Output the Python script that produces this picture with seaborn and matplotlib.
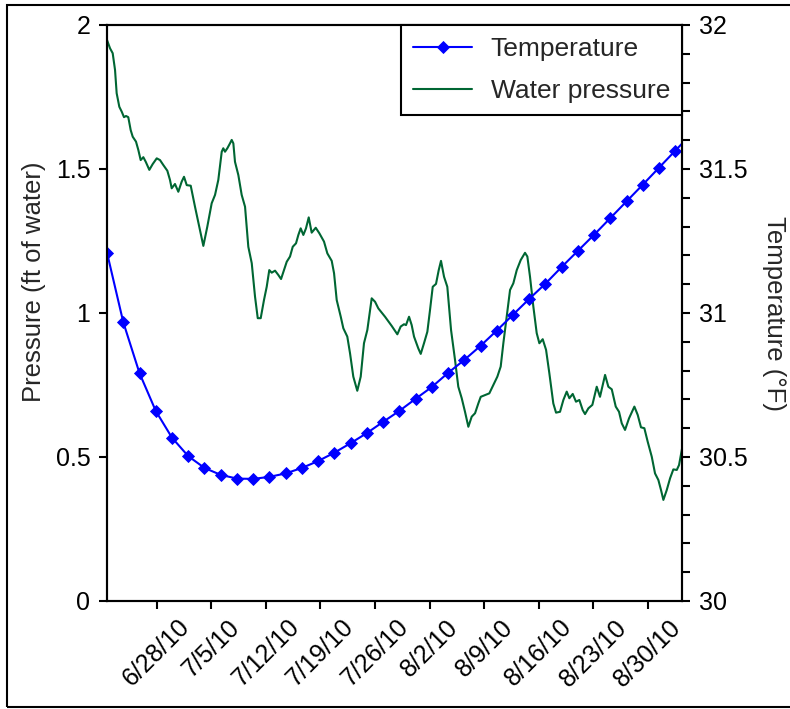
import numpy as np
import pandas as pd
import matplotlib
matplotlib.use('Agg')
from matplotlib import pyplot as plt
import matplotlib.dates as mdates
from matplotlib.ticker import MultipleLocator, FuncFormatter
from matplotlib.patches import Rectangle
import seaborn as sns

# Days after 6/21/2010 00:00 and water pressure (ft of water)
pressure_day = [0.62, 1.01, 1.35, 1.65, 1.86, 2.20, 2.51, 2.80, 3.06, 3.35, 3.66, 3.92, 4.34, 4.64,
                4.94, 5.28, 5.59, 6.05, 6.48, 7.00, 7.42, 7.84, 8.36, 8.70, 8.92, 9.34, 9.77, 10.20,
                10.50, 10.85, 11.36, 11.91, 12.46, 12.98, 13.49, 14.05, 14.48, 14.90, 15.34, 15.54,
                15.76, 16.06, 16.40, 16.62, 16.83, 17.04, 17.47, 17.90, 18.33, 18.75, 19.19, 19.61,
                19.96, 20.34, 20.76, 21.11, 21.44, 21.75, 22.18, 22.60, 22.95, 23.33, 23.68, 24.10,
                24.45, 24.87, 25.17, 25.47, 25.81, 26.15, 26.50, 26.88, 27.40, 27.86, 28.46, 28.89,
                29.45, 29.75, 30.09, 30.61, 30.94, 31.45, 31.80, 32.22, 32.73, 33.17, 33.59, 34.02,
                34.58, 35.01, 35.43, 36.29, 37.15, 37.87, 38.30, 38.73, 38.98, 39.37, 39.71, 40.01,
                40.56, 40.87, 41.29, 41.72, 42.06, 42.41, 42.83, 43.18, 43.47, 43.86, 44.28, 44.76,
                45.27, 45.69, 46.13, 46.55, 46.98, 47.41, 47.84, 48.26, 48.57, 49.12, 49.67, 50.18,
                50.70, 51.13, 51.47, 51.90, 52.33, 52.75, 53.19, 53.70, 54.25, 54.55, 54.89, 55.32,
                55.75, 56.09, 56.52, 56.95, 57.37, 57.88, 58.23, 58.74, 59.17, 59.60, 59.94, 60.37,
                60.79, 61.22, 61.65, 61.95, 62.38, 62.89, 63.45, 63.87, 64.52, 64.94, 65.38, 65.89,
                66.31, 66.66, 67.08, 67.59, 68.28, 68.71, 69.13, 69.56, 69.99, 70.51, 70.93, 71.36,
                71.70, 72.00, 72.43, 72.86, 73.28, 73.72, 74.01, 74.44]
pressure_ft = [1.948, 1.919, 1.902, 1.844, 1.763, 1.716, 1.699, 1.680, 1.684, 1.680, 1.635, 1.612,
               1.595, 1.566, 1.531, 1.541, 1.525, 1.497, 1.517, 1.537, 1.531, 1.514, 1.494, 1.462,
               1.433, 1.448, 1.421, 1.456, 1.473, 1.444, 1.442, 1.369, 1.300, 1.233, 1.300, 1.381,
               1.410, 1.462, 1.560, 1.572, 1.560, 1.572, 1.589, 1.601, 1.589, 1.525, 1.479, 1.410,
               1.369, 1.230, 1.173, 1.057, 0.982, 0.982, 1.045, 1.091, 1.149, 1.140, 1.147, 1.132,
               1.118, 1.149, 1.178, 1.196, 1.230, 1.242, 1.271, 1.294, 1.271, 1.294, 1.332, 1.279,
               1.296, 1.277, 1.248, 1.207, 1.181, 1.138, 1.045, 0.987, 0.947, 0.918, 0.860, 0.779,
               0.730, 0.779, 0.895, 0.941, 1.051, 1.039, 1.016, 0.987, 0.955, 0.926, 0.953, 0.961,
               0.958, 0.987, 0.958, 0.918, 0.877, 0.858, 0.895, 0.935, 1.010, 1.091, 1.101, 1.149,
               1.181, 1.126, 1.091, 0.941, 0.837, 0.744, 0.704, 0.657, 0.605, 0.640, 0.652, 0.686,
               0.709, 0.715, 0.721, 0.750, 0.779, 0.814, 0.895, 0.987, 1.080, 1.103, 1.149, 1.184,
               1.209, 1.196, 1.126, 1.022, 0.930, 0.895, 0.909, 0.872, 0.791, 0.686, 0.654, 0.657,
               0.698, 0.727, 0.704, 0.719, 0.692, 0.698, 0.663, 0.649, 0.669, 0.681, 0.744, 0.709,
               0.785, 0.744, 0.735, 0.675, 0.657, 0.617, 0.594, 0.634, 0.675, 0.646, 0.603, 0.600,
               0.553, 0.501, 0.443, 0.420, 0.385, 0.351, 0.385, 0.426, 0.457, 0.455, 0.472, 0.536]

# Temperature (F), one reading every 50 hours
temp_f = [31.209, 30.968, 30.791, 30.660, 30.567, 30.503, 30.462, 30.438, 30.425, 30.424,
          30.431, 30.443, 30.462, 30.486, 30.515, 30.548, 30.583, 30.622, 30.660, 30.702,
          30.743, 30.792, 30.837, 30.886, 30.939, 30.994, 31.049, 31.102, 31.160, 31.216,
          31.272, 31.330, 31.388, 31.446, 31.505, 31.564, 31.623]

start = pd.Timestamp('2010-06-21')
pressure_df = pd.DataFrame({'date': start + pd.to_timedelta(pressure_day, unit='D'),
                            'pressure': pressure_ft})
temp_df = pd.DataFrame({'date': pd.date_range(start + pd.Timedelta(hours=15),
                                              periods=len(temp_f), freq='50h'),
                        'temp': temp_f})

sns.set_style('ticks')
plt.rcParams['font.family'] = ['Liberation Sans', 'DejaVu Sans']
plt.rcParams['axes.linewidth'] = 1.5
plt.rcParams['axes.edgecolor'] = 'black'

fig = plt.figure(figsize=(7.9, 7.09), dpi=100)
ax = fig.add_axes([107 / 790, 1 - 601 / 709, 575 / 790, 576 / 709])

sns.lineplot(data=pressure_df, x='date', y='pressure', ax=ax,
             color='#006633', linewidth=1.5, legend=False)
ax2 = ax.twinx()
sns.lineplot(data=temp_df, x='date', y='temp', ax=ax2,
             color='#0000ff', linewidth=1.5, marker='D', markersize=6.5,
             markeredgewidth=0.6, markeredgecolor='#0000ff', legend=False)

ax.set_xlim(start + pd.Timedelta(days=0.62), start + pd.Timedelta(days=74.39))
ax.set_ylim(0, 2)
ax2.set_ylim(30, 32)

ax.yaxis.set_major_locator(MultipleLocator(0.5))
ax.yaxis.set_major_formatter(FuncFormatter(lambda v, p: f'{v:g}'))
ax2.yaxis.set_major_locator(MultipleLocator(0.5))
ax2.yaxis.set_minor_locator(MultipleLocator(0.1))
ax2.yaxis.set_major_formatter(FuncFormatter(lambda v, p: f'{v:g}'))

ax.xaxis.set_major_locator(mdates.WeekdayLocator(byweekday=mdates.MO))
ax.xaxis.set_major_formatter(FuncFormatter(
    lambda v, p: '{0.month}/{0.day}/{1}'.format(mdates.num2date(v), mdates.num2date(v).strftime('%y'))))

for a in (ax, ax2):
    a.tick_params(axis='both', which='both', direction='out', length=6, width=1.5,
                  labelsize=18, colors='black')
    for s in a.spines.values():
        s.set_color('black')
        s.set_linewidth(1.5)
ax.tick_params(axis='x', pad=4)
plt.setp(ax.get_xticklabels(), rotation=45, ha='center')
ax.tick_params(axis='y', pad=6)
ax2.tick_params(axis='y', pad=6)

ax.set_xlabel('')
ax.set_ylabel('Pressure (ft of water)', fontsize=18.5, labelpad=7)
ax.yaxis.label.set_y(0.555)
ax2.set_ylabel('Temperature (\u00b0F)', fontsize=18.5, rotation=270, labelpad=28)

leg = ax2.legend([ax2.lines[0], ax.lines[0]], ['Temperature', 'Water pressure'],
                 loc='upper right', bbox_to_anchor=(1, 1), borderaxespad=0,
                 fontsize=19, frameon=True, fancybox=False, framealpha=1,
                 edgecolor='black', handlelength=2.25, handletextpad=0.7,
                 borderpad=0.45, labelspacing=0.7)
leg.get_frame().set_linewidth(1.5)

fig.patches.append(Rectangle((7 / 790, 2 / 709), 1.2, 702 / 709, transform=fig.transFigure,
                             fill=False, edgecolor='black', linewidth=1.5))

fig.savefig('out.png', dpi=100)
